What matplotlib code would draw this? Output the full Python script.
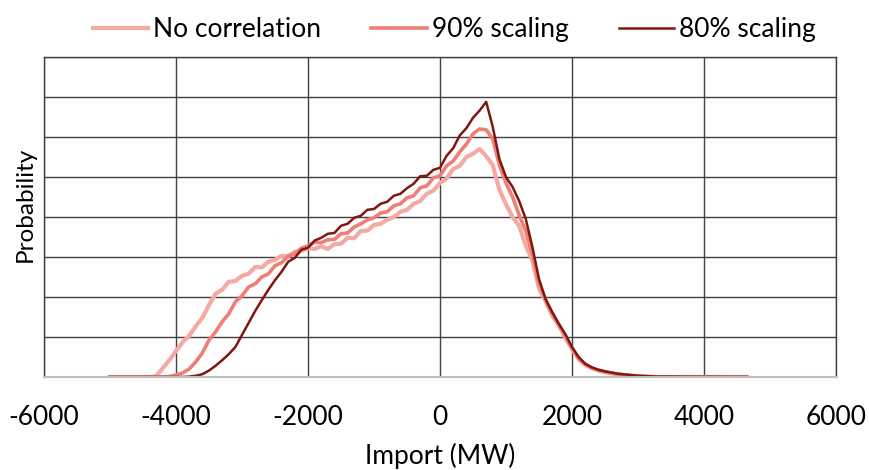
import numpy as np
import matplotlib.pyplot as plt

plt.rcParams['font.family'] = ['Lato', 'DejaVu Sans']
plt.rcParams['axes.unicode_minus'] = False

# import (MW) sample positions
x = [-5000,
     -4500, -4400, -4300, -4200, -4100, -4000, -3900, -3800, -3700, -3600,
     -3500, -3400, -3300, -3200, -3100, -3000, -2900, -2800, -2700, -2600,
     -2500, -2400, -2300, -2200, -2100, -2000, -1900, -1800, -1700, -1600,
     -1500, -1400, -1300, -1200, -1100, -1000, -900, -800, -700, -600,
     -500, -400, -300, -200, -100, 0, 100, 200, 300, 400,
     500, 600, 700, 800, 900, 1000, 1100, 1200, 1300, 1400,
     1500, 1600, 1700, 1800, 1900, 2000, 2100, 2200, 2300, 2400,
     2500, 2700, 3000, 3300, 4650]

# probability (grid units, no scale shown)
no_corr = [0,
           0, 0, 0.02, 0.22, 0.42, 0.65, 0.87, 1.03, 1.27, 1.48,
           1.8, 2.08, 2.18, 2.38, 2.4, 2.53, 2.58, 2.75, 2.74, 2.88,
           2.93, 3.03, 3.02, 3.13, 3.15, 3.22, 3.2, 3.27, 3.2, 3.32,
           3.33, 3.48, 3.47, 3.65, 3.66, 3.8, 3.83, 3.93, 4.0, 4.13,
           4.18, 4.33, 4.4, 4.58, 4.66, 4.85, 4.96, 5.2, 5.28, 5.5,
           5.58, 5.7, 5.52, 5.3, 4.68, 4.32, 4.0, 3.78, 3.28, 2.92,
           2.22, 1.9, 1.53, 1.3, 0.98, 0.7, 0.45, 0.3, 0.22, 0.16,
           0.12, 0.06, 0.02, 0, 0]

scale_90 = [0,
            0, 0, 0, 0, 0.01, 0.05, 0.1, 0.2, 0.38, 0.6,
            0.92, 1.13, 1.38, 1.58, 1.88, 2.03, 2.25, 2.33, 2.5, 2.58,
            2.78, 2.86, 3.02, 3.08, 3.22, 3.28, 3.37, 3.36, 3.43, 3.44,
            3.58, 3.6, 3.75, 3.83, 3.93, 3.98, 4.1, 4.13, 4.28, 4.33,
            4.48, 4.53, 4.73, 4.78, 4.98, 5.03, 5.28, 5.4, 5.63, 5.82,
            6.08, 6.2, 6.18, 5.95, 5.3, 4.85, 4.5, 4.05, 3.65, 3.05,
            2.35, 1.92, 1.6, 1.3, 1.02, 0.72, 0.47, 0.32, 0.23, 0.17,
            0.13, 0.07, 0.02, 0, 0]

scale_80 = [0,
            0, 0, 0, 0, 0, 0, 0, 0.01, 0.03, 0.07,
            0.16, 0.28, 0.42, 0.57, 0.75, 1.05, 1.35, 1.65, 1.92, 2.18,
            2.42, 2.63, 2.88, 2.98, 3.18, 3.23, 3.41, 3.48, 3.58, 3.6,
            3.78, 3.83, 3.98, 4.03, 4.18, 4.2, 4.33, 4.38, 4.53, 4.58,
            4.72, 4.83, 5.02, 5.03, 5.18, 5.23, 5.53, 5.72, 6.04, 6.22,
            6.48, 6.66, 6.88, 6.25, 5.45, 5.0, 4.75, 4.4, 3.95, 3.25,
            2.45, 1.95, 1.62, 1.33, 1.07, 0.75, 0.5, 0.33, 0.24, 0.18,
            0.14, 0.08, 0.03, 0.01, 0]

fig = plt.figure(figsize=(8.69, 4.70), dpi=100)
ax = fig.add_axes([0.0506, 0.1979, 0.9114, 0.6808])

ax.plot(x, no_corr, color='#F4A9A3', lw=3.0, label='No correlation')
ax.plot(x, scale_90, color='#EE7F76', lw=2.6, label='90% scaling')
ax.plot(x, scale_80, color='#7F1710', lw=1.8, label='80% scaling')

ax.set_xlim(-6000, 6000)
ax.set_ylim(0, 8)
ax.set_xticks(range(-6000, 6001, 2000))
ax.set_yticks(range(0, 9))
ax.set_yticklabels([])
ax.tick_params(length=0, labelsize=19, pad=20)
ax.grid(color='#404040', lw=1)
ax.set_axisbelow(True)
for side in ['left', 'right', 'top']:
    ax.spines[side].set_color('#404040')
    ax.spines[side].set_linewidth(1)
ax.spines['bottom'].set_color('#BFBFBF')
ax.spines['bottom'].set_linewidth(1.5)

ax.set_xlabel('Import (MW)', fontsize=19)
ax.xaxis.set_label_coords(0.5, -0.205)
ax.set_ylabel('Probability', fontsize=17.5)
ax.yaxis.set_label_coords(-0.011, 0.54)

ax.legend(loc='center', bbox_to_anchor=(0.518, 1.085), ncol=3,
          frameon=False, fontsize=19, handlelength=2.1,
          columnspacing=1.9, handletextpad=0.19, borderaxespad=0)

fig.savefig('out.png', dpi=100)
